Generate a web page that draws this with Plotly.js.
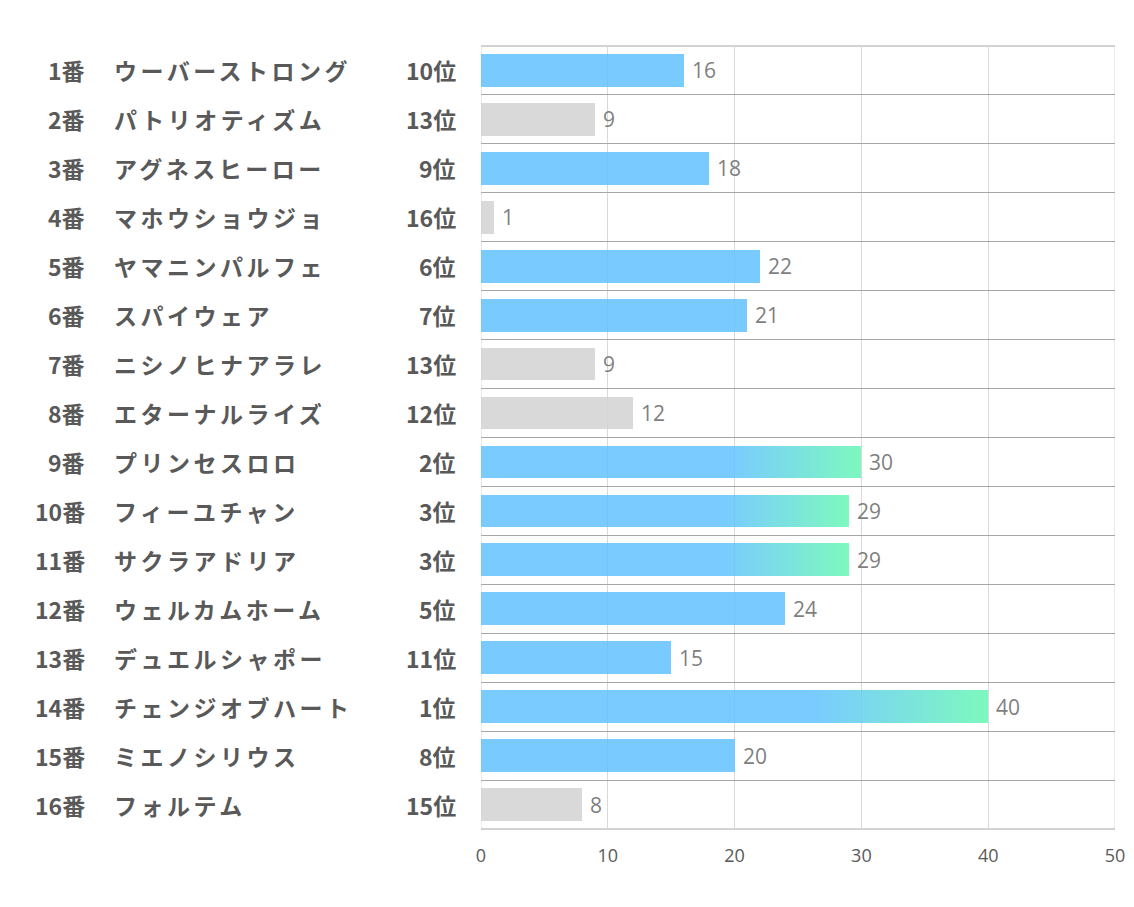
<!DOCTYPE html>
<html>
<head>
<meta charset="utf-8">
<script src="https://cdn.plot.ly/plotly-3.0.1.min.js"></script>
<style>html,body{margin:0;padding:0;background:#fff;}#chart{width:1134px;height:907px;}</style>
</head>
<body>
<div id="chart"></div>
<script>
const numbers = ["1番","2番","3番","4番","5番","6番","7番","8番","9番","10番","11番","12番","13番","14番","15番","16番"];
const names = ["ウーバーストロング","パトリオティズム","アグネスヒーロー","マホウショウジョ","ヤマニンパルフェ","スパイウェア","ニシノヒナアラレ","エターナルライズ","プリンセスロロ","フィーユチャン","サクラアドリア","ウェルカムホーム","デュエルシャポー","チェンジオブハート","ミエノシリウス","フォルテム"];
const ranks = [10,13,9,16,6,7,13,12,2,3,3,5,11,1,8,15];
const values = [16,9,18,1,22,21,9,12,30,29,29,24,15,40,20,8];
const xTicks = [0,10,20,30,40,50];

const BLUE = '#62C2FF', GRAY = '#D2D2D2';
const pos = values.map((v,i)=>i);
const colors = ranks.map(r => r >= 12 ? GRAY : BLUE);

const trace = {
  type:'bar', orientation:'h',
  x: values, y: pos,
  marker:{color: colors, opacity:0.85, line:{width:0}},
  width: 0.67,
  hoverinfo:'none'
};

const annotations = [];
const L = 481, W = 634;
const px = p => (p - L) / W;
const labFont = {family:'Noto Sans CJK JP, sans-serif', size:23, color:'#595959', weight:'bold'};
pos.forEach(i => {
  annotations.push({xref:'paper', yref:'y', x:px(87), y:i, text:'<b>'+numbers[i]+'</b>', showarrow:false, xanchor:'right', yanchor:'middle', font:labFont});
  annotations.push({xref:'paper', yref:'y', x:px(112), y:i, text:'<b>'+names[i]+'</b>', showarrow:false, xanchor:'left', yanchor:'middle', font:labFont});
  annotations.push({xref:'paper', yref:'y', x:px(458), y:i, text:'<b>'+ranks[i]+'位</b>', showarrow:false, xanchor:'right', yanchor:'middle', font:labFont});
  annotations.push({xref:'x', yref:'y', x:values[i], y:i, xshift:6, text:String(values[i]), showarrow:false, xanchor:'left', yanchor:'middle',
    font:{family:'Open Sans, Noto Sans, sans-serif', size:21, color:'#7F7F7F'}});
});

const shapes = [
  {type:'line', xref:'x', yref:'paper', x0:0, x1:0, y0:0, y1:1, line:{color:'#D9D9D9', width:1}, layer:'below'},
  {type:'line', xref:'x', yref:'paper', x0:50, x1:50, y0:0, y1:1, line:{color:'#D9D9D9', width:1}, layer:'below'},
  {type:'line', xref:'paper', yref:'paper', x0:0, x1:1, y0:1, y1:1, line:{color:'#A6A6A6', width:1}, layer:'below'},
  {type:'line', xref:'paper', yref:'paper', x0:0, x1:1, y0:0, y1:0, line:{color:'#A6A6A6', width:1}, layer:'below'}
];

const layout = {
  width:1134, height:907,
  margin:{l:481, r:19, t:46, b:77.5},
  paper_bgcolor:'#fff', plot_bgcolor:'#fff',
  showlegend:false,
  xaxis:{range:[0,50], tickvals:xTicks, ticktext:xTicks.map(String), showgrid:true, gridcolor:'#D9D9D9', gridwidth:1,
    zeroline:false, showline:false, ticks:'', ticklabelstandoff:14,
    tickfont:{family:'Open Sans, Noto Sans, sans-serif', size:18, color:'#595959'}, fixedrange:true},
  yaxis:{range:[15.5,-0.5], tick0:-0.5, dtick:1, showticklabels:false, showgrid:true, gridcolor:'#A6A6A6', gridwidth:1,
    zeroline:false, showline:false, ticks:'', fixedrange:true},
  annotations: annotations,
  shapes: shapes,
  bargap:0
};

Plotly.newPlot('chart', [trace], layout, {displayModeBar:false, staticPlot:true}).then(gd => {
  const svg = gd.querySelector('svg.main-svg');
  const ns = 'http://www.w3.org/2000/svg';
  let defs = svg.querySelector('defs');
  if (!defs) { defs = document.createElementNS(ns,'defs'); svg.insertBefore(defs, svg.firstChild); }
  const g = document.createElementNS(ns,'linearGradient');
  g.setAttribute('id','topGrad');
  g.setAttribute('x1','0'); g.setAttribute('y1','0'); g.setAttribute('x2','1'); g.setAttribute('y2','0');
  [['0', BLUE],['0.66', BLUE],['1','#66F7B3']].forEach(([o,c]) => {
    const s = document.createElementNS(ns,'stop');
    s.setAttribute('offset',o); s.setAttribute('stop-color',c);
    g.appendChild(s);
  });
  defs.appendChild(g);
  const paths = gd.querySelectorAll('.barlayer .point path');
  paths.forEach((p, i) => {
    if (ranks[i] <= 3) p.style.fill = 'url(#topGrad)';
  });
  const nameSet = new Set(names);
  gd.querySelectorAll('.annotation-text').forEach(t => {
    if (nameSet.has(t.textContent)) {
      const x0 = t.getBBox().x;
      t.style.letterSpacing = '3.5px';
      const x1 = t.getBBox().x;
      const cur = parseFloat(t.getAttribute('x')) || 0;
      t.setAttribute('x', cur + (x0 - x1));
    }
  });
});
</script>
</body>
</html>
